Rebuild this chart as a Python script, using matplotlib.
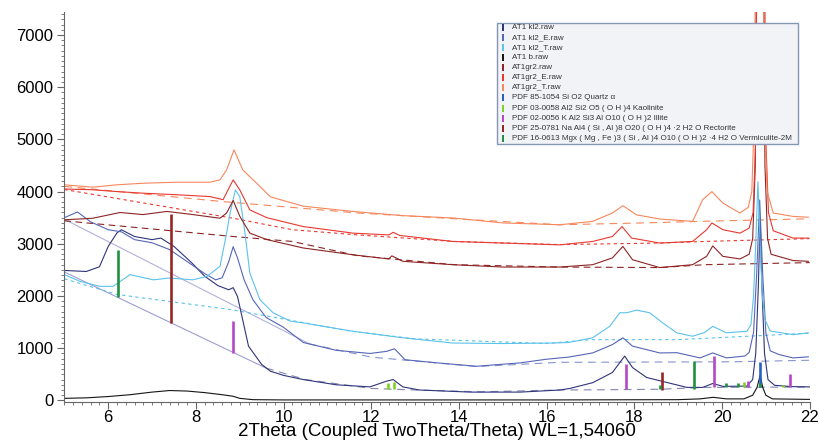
import matplotlib.pyplot as plt
from matplotlib.patches import Rectangle
from matplotlib.ticker import MultipleLocator

plt.rcParams['font.family'] = ['Liberation Sans', 'DejaVu Sans']

# ---- measured scans: 2Theta (deg) / counts ----
kl2_x = [5.0, 5.5, 5.8, 6.0, 6.2, 6.3, 6.6, 7.0, 7.2, 7.5, 7.9, 8.2, 8.5, 8.75, 8.85, 8.95,
         9.1, 9.2, 9.5, 9.7, 10.0, 10.45, 11.2, 11.97, 12.35, 12.5, 12.72, 13.1, 14.25, 15.4,
         16.3, 16.53, 17.05, 17.5, 17.78, 17.96, 18.28, 18.74, 19.2, 19.56, 19.79, 20.02,
         20.57, 20.7, 20.77, 20.83, 20.87, 20.91, 20.97, 21.05, 21.2, 21.6, 22.0]
kl2_y = [2490, 2470, 2560, 2950, 3210, 3270, 3140, 3080, 3110, 2950, 2640, 2380, 2200, 2120, 2160, 1990,
         1420, 1040, 690, 560, 480, 400, 300, 260, 370, 400, 260, 200, 160, 160,
         200, 230, 340, 535, 850, 630, 440, 345, 250, 250, 325, 270,
         275, 400, 900, 2200, 3500, 2200, 900, 400, 290, 265, 260]

kl2e_x = [5.0, 5.3, 5.6, 6.0, 6.3, 6.6, 7.0, 7.4, 7.8, 8.2, 8.45, 8.6, 8.75, 8.85, 8.95, 9.1,
          9.3, 9.6, 10.0, 10.45, 11.2, 11.97, 12.35, 12.53, 12.77, 13.5, 14.4, 15.4, 16.0, 16.5,
          17.05, 17.5, 17.74, 17.96, 18.58, 18.97, 19.5, 19.79, 20.1, 20.52,
          20.62, 20.72, 20.79, 20.86, 20.93, 21.0, 21.1, 21.3, 21.62, 21.97]
kl2e_y = [3500, 3610, 3420, 3270, 3230, 3080, 3020, 2890, 2660, 2430, 2310, 2350, 2660, 2945, 2730, 2310,
          1930, 1590, 1400, 1110, 960, 900, 940, 990, 780, 720, 655, 720, 790, 830,
          910, 1070, 1200, 1040, 910, 915, 815, 910, 815, 850,
          920, 1300, 2400, 3840, 2400, 1300, 950, 880, 815, 835]

kl2t_x = [5.0, 5.36, 5.81, 6.11, 6.5, 7.03, 7.4, 7.93, 8.25, 8.55, 8.7, 8.78, 8.9, 9.0, 9.12, 9.23,
          9.46, 9.76, 10.15, 10.45, 11.58, 12.72, 13.86, 15.0, 16.14, 16.5, 17.05, 17.44, 17.67,
          17.83, 18.05, 18.35, 18.65, 18.97, 19.33, 19.6, 19.79, 20.1, 20.57,
          20.66, 20.72, 20.77, 20.82, 20.87, 20.92, 20.98, 21.1, 21.62, 21.97]
kl2t_y = [2410, 2280, 2185, 2185, 2410, 2310, 2345, 2310, 2375, 2570, 3200, 3590, 4030, 3910, 3205, 2440,
          1930, 1680, 1520, 1485, 1325, 1200, 1100, 1090, 1100, 1110, 1200, 1420, 1680,
          1680, 1730, 1680, 1485, 1295, 1230, 1300, 1420, 1295, 1325,
          1450, 2000, 3000, 4190, 3000, 2000, 1550, 1330, 1260, 1295]

b_x = [5.0, 5.5, 6.0, 6.5, 7.0, 7.4, 7.8, 8.2, 8.6, 8.85, 9.0, 9.3, 10.0, 12.0, 16.0, 19.0,
       19.5, 19.8, 20.1, 20.5, 20.7, 20.8, 20.87, 20.93, 21.0, 21.15, 22.0]
b_y = [40, 50, 75, 110, 160, 190, 180, 150, 110, 80, 40, 15, 10, 10, 10, 15,
       30, 60, 30, 30, 100, 250, 480, 250, 100, 30, 20]

gr2_x = [5.0, 5.65, 6.27, 6.79, 7.34, 7.93, 8.55, 8.7, 8.85, 9.0, 9.23, 9.62, 10.45, 11.58, 12.4,
         12.47, 12.72, 13.86, 15.0, 16.3, 17.05, 17.5, 17.74, 17.96, 18.58, 19.33, 19.65, 19.79,
         20.02, 20.41, 20.62, 20.7, 20.76, 20.86, 20.98, 21.04, 21.12, 21.62, 21.97]
gr2_y = [3460, 3490, 3600, 3560, 3620, 3560, 3490, 3590, 3830, 3530, 3205, 3080, 2920, 2790, 2710,
         2770, 2665, 2600, 2555, 2555, 2600, 2730, 2950, 2695, 2545, 2600, 2760, 2960,
         2760, 2710, 2800, 3100, 4500, 20000, 4500, 3100, 2800, 2680, 2665]

gr2e_x = [5.0, 5.65, 6.2, 6.79, 7.56, 8.32, 8.62, 8.85, 9.0, 9.23, 9.62, 10.45, 11.58, 12.4, 12.5,
          12.65, 13.86, 15.0, 16.3, 17.05, 17.5, 17.72, 17.94, 18.58, 19.33, 19.65, 19.77, 20.02,
          20.41, 20.62, 20.71, 20.77, 20.88, 21.0, 21.06, 21.17, 21.62, 21.97]
gr2e_y = [4050, 4035, 4000, 3970, 3940, 3905, 3845, 4225, 4035, 3650, 3500, 3330, 3205, 3170, 3220,
          3160, 3045, 3015, 2980, 3045, 3140, 3330, 3110, 3015, 3045, 3270, 3400, 3270,
          3205, 3300, 3600, 5000, 20000, 5000, 3600, 3250, 3110, 3110]

gr2t_x = [5.0, 5.65, 6.2, 6.79, 7.56, 8.32, 8.55, 8.7, 8.87, 9.07, 9.46, 9.7, 10.45, 11.58, 12.72,
          13.86, 15.0, 16.3, 17.05, 17.5, 17.74, 18.05, 18.58, 19.33, 19.56, 19.77, 20.02, 20.41,
          20.6, 20.68, 20.74, 20.85, 20.97, 21.03, 21.17, 21.62, 21.97]
gr2t_y = [4130, 4085, 4130, 4160, 4180, 4180, 4225, 4415, 4800, 4415, 4100, 3900, 3720, 3620, 3540,
          3495, 3400, 3365, 3430, 3590, 3730, 3555, 3475, 3430, 3845, 4000, 3780, 3590,
          3700, 4000, 5500, 20000, 5500, 4000, 3590, 3525, 3510]

# ---- fitted backgrounds ----
diag_kl2_x = [5.0, 9.6]
diag_kl2_y = [2460, 620]
bg_kl2_x = [9.6, 10.5, 12.0, 13.0, 14.5, 16.3, 17.3, 18.6, 19.6, 21.2, 22.0]
bg_kl2_y = [620, 400, 230, 200, 165, 200, 205, 215, 250, 255, 255]

diag_kl2e_x = [5.0, 10.6]
diag_kl2e_y = [3470, 1080]
bg_kl2e_x = [10.6, 12.0, 12.8, 14.4, 16.3, 20.2, 22.0]
bg_kl2e_y = [1080, 830, 770, 650, 730, 740, 770]

bg_kl2t_x = [5.0, 6.2, 8.8, 10.0, 11.5, 13.0, 16.0, 17.0, 19.0, 20.6, 22.0]
bg_kl2t_y = [2330, 2030, 1740, 1560, 1330, 1180, 1090, 1165, 1165, 1230, 1290]

bg_gr2_x = [5.0, 8.85, 10.2, 11.7, 13.9, 16.3, 18.6, 19.6, 22.0]
bg_gr2_y = [3440, 3140, 3045, 2770, 2600, 2555, 2545, 2600, 2640]

bg_gr2e_x = [5.0, 8.85, 10.2, 11.7, 13.9, 16.3, 18.6, 19.6, 22.0]
bg_gr2e_y = [4040, 3490, 3270, 3170, 3045, 2985, 3015, 3045, 3100]

bg_gr2t_x = [5.0, 8.6, 11.7, 13.9, 16.3, 18.2, 19.5, 22.0]
bg_gr2t_y = [4100, 3810, 3590, 3480, 3365, 3400, 3430, 3480]

# ---- reference pattern sticks: position, base, top ----
quartz_pos = [20.86]
quartz_lo = [250]
quartz_hi = [730]

kaol_pos = [12.39, 12.52, 20.5, 21.4]
kaol_lo = [225, 225, 250, 250]
kaol_hi = [340, 350, 350, 300]

illite_pos = [8.84, 17.8, 19.81, 20.6, 21.56]
illite_lo = [900, 210, 250, 250, 250]
illite_hi = [1520, 690, 860, 370, 515]

rect_pos = [7.43, 18.64]
rect_lo = [1480, 200]
rect_hi = [3570, 540]

verm_pos = [6.22, 18.58, 19.37, 20.09, 20.37, 20.86]
verm_lo = [1980, 210, 225, 250, 250, 250]
verm_hi = [2880, 300, 765, 340, 330, 330]

legend_names = ['AT1 kl2.raw', 'AT1 kl2_E.raw', 'AT1 kl2_T.raw', 'AT1 b.raw',
                'AT1gr2.raw', 'AT1gr2_E.raw', 'AT1gr2_T.raw',
                'PDF 85-1054 Si O2 Quartz \u03b1',
                'PDF 03-0058 Al2 Si2 O5 ( O H )4 Kaolinite',
                'PDF 02-0056 K Al2 Si3 Al O10 ( O H )2 Illite',
                'PDF 25-0781 Na Al4 ( Si , Al )8 O20 ( O H )4 \u00b72 H2 O Rectorite',
                'PDF 16-0613 Mgx ( Mg , Fe )3 ( Si , Al )4 O10 ( O H )2 \u00b74 H2 O Vermiculite-2M']

c_kl2 = '#2f3479'
c_kl2e = '#5566b8'
c_kl2t = '#5cc2ea'
c_b = '#151515'
c_gr2 = '#8e2424'
c_gr2e = '#e8382f'
c_gr2t = '#f6875c'
c_quartz = '#2a5fc8'
c_kaol = '#7fd124'
c_illite = '#b449c8'
c_rect = '#962626'
c_verm = '#1f9140'
legend_colors = [c_kl2, c_kl2e, c_kl2t, c_b, c_gr2, c_gr2e, c_gr2t,
                 c_quartz, c_kaol, c_illite, c_rect, c_verm]

fig = plt.figure(figsize=(8.19, 4.41), dpi=100)
ax = fig.add_axes([0.0786, 0.0884, 0.910, 0.8844])

# backgrounds
diag = '#9d9dd4'
ax.plot(diag_kl2_x, diag_kl2_y, color=diag, lw=0.8)
ax.plot(diag_kl2e_x, diag_kl2e_y, color=diag, lw=0.8, alpha=0.8)
ax.plot(bg_kl2_x, bg_kl2_y, color=c_kl2, lw=0.8, ls=(0, (7, 5)), alpha=0.6)
ax.plot(bg_kl2e_x, bg_kl2e_y, color=c_kl2e, lw=0.8, ls=(0, (7, 5)), alpha=0.7)
ax.plot(bg_kl2t_x, bg_kl2t_y, color=c_kl2t, lw=0.8, ls=(0, (3, 3)))
ax.plot(bg_gr2_x, bg_gr2_y, color=c_gr2, lw=0.8, ls=(0, (6, 4)))
ax.plot(bg_gr2e_x, bg_gr2e_y, color=c_gr2e, lw=0.8, ls=(0, (3, 3)))
ax.plot(bg_gr2t_x, bg_gr2t_y, color=c_gr2t, lw=0.8, ls=(0, (7, 5)))

# scans
ax.plot(b_x, b_y, color=c_b, lw=0.8)
ax.plot(kl2_x, kl2_y, color=c_kl2, lw=0.8)
ax.plot(kl2e_x, kl2e_y, color=c_kl2e, lw=0.8)
ax.plot(kl2t_x, kl2t_y, color=c_kl2t, lw=0.8)
ax.plot(gr2_x, gr2_y, color=c_gr2, lw=0.8)
ax.plot(gr2e_x, gr2e_y, color=c_gr2e, lw=0.8)
ax.plot(gr2t_x, gr2t_y, color=c_gr2t, lw=0.8)

# sticks
ax.vlines(quartz_pos, quartz_lo, quartz_hi, color=c_quartz, lw=1.9)
ax.vlines(kaol_pos, kaol_lo, kaol_hi, color=c_kaol, lw=1.9)
ax.vlines(illite_pos, illite_lo, illite_hi, color=c_illite, lw=1.9)
ax.vlines(rect_pos, rect_lo, rect_hi, color=c_rect, lw=1.9)
ax.vlines(verm_pos, verm_lo, verm_hi, color=c_verm, lw=1.9)

ax.set_xlim(5, 22)
ax.set_ylim(-30, 7440)
ax.xaxis.set_major_locator(MultipleLocator(2))
ax.xaxis.set_minor_locator(MultipleLocator(0.2))
ax.yaxis.set_major_locator(MultipleLocator(1000))
ax.yaxis.set_minor_locator(MultipleLocator(100))
ax.tick_params(which='major', direction='out', length=5, width=0.8, color='#666666',
               labelsize=12)
ax.tick_params(which='minor', direction='out', length=2.5, width=0.6, color='#666666')
ax.tick_params(axis='x', which='major', pad=0.5)
ax.tick_params(axis='y', which='major', pad=3)
for s in ['top', 'right']:
    ax.spines[s].set_visible(False)
for s in ['left', 'bottom']:
    ax.spines[s].set_color('#666666')
    ax.spines[s].set_linewidth(0.8)
ax.set_xlabel('2Theta (Coupled TwoTheta/Theta) WL=1,54060', fontsize=13.5, labelpad=-1)

# legend box
W, H = 819.0, 441.0
fig.patches.append(Rectangle((497 / W, 1 - 144 / H), 301 / W, 121 / H, transform=fig.transFigure,
                             facecolor='#f1f3f7', edgecolor='#8795b4', lw=1, zorder=5))
for i, (name, col) in enumerate(zip(legend_names, legend_colors)):
    yc = 27.2 + i * 10.1
    fig.patches.append(Rectangle((502 / W, 1 - (yc + 3.5) / H), 2.2 / W, 7 / H,
                                 transform=fig.transFigure, facecolor=col, edgecolor='none',
                                 zorder=6))
    fig.text(511.5 / W, 1 - yc / H, name, fontsize=5.8, color='#333333', va='center',
             ha='left', zorder=7)

fig.savefig('out.png', dpi=100)
